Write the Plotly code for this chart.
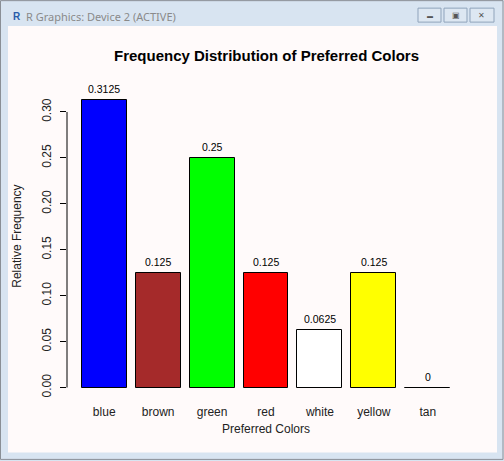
import plotly.graph_objects as go

# data read from the R barplot
colors = ['blue', 'brown', 'green', 'red', 'white', 'yellow', 'tan']
rel_freq = [0.3125, 0.125, 0.25, 0.125, 0.0625, 0.125, 0.0]
fill_colors = ['#0000FF', '#A52A2A', '#00FF00', '#FF0000', '#FFFFFF', '#FFFF00', '#D2B48C']
y_ticks = [0.00, 0.05, 0.10, 0.15, 0.20, 0.25, 0.30]

W, H = 504, 461
# plot region in pixels (R device)
L, R_, T, B = 67, 465, 89, 399.5


def px(x):
    return (x - L) / (R_ - L)


def py(y):
    return (B - y) / (B - T)


# R barplot geometry: width 1, space 0.2
centers = [0.7 + 1.2 * i for i in range(len(colors))]
x_lo, x_hi = 0.2, 0.2 + 1.2 * len(colors) - 0.2
pad = 0.04 * (x_hi - x_lo)
y_hi = max(rel_freq)
y_pad = 0.04 * y_hi

font = 'Liberation Sans, Arial'

fig = go.Figure()
fig.add_bar(
    x=centers, y=rel_freq, width=1,
    marker=dict(color=fill_colors, line=dict(color='black', width=1)),
    hoverinfo='x+y',
)

shapes = [
    # client area of the graphics window
    dict(type='rect', xref='paper', yref='paper', x0=px(8), x1=px(497), y0=py(453), y1=py(26),
         fillcolor='#FFFAFA', line=dict(width=0), layer='below'),
    # window outer border
    dict(type='rect', xref='paper', yref='paper', x0=px(0.5), x1=px(503), y0=py(460), y1=py(0.5),
         line=dict(color='#8a8f96', width=1)),
    # y axis line from first to last tick, as R draws it
    dict(type='line', xref='paper', yref='y', x0=0, x1=0, y0=y_ticks[0], y1=y_ticks[-1],
         line=dict(color='black', width=1)),
]
# title bar buttons
for bx0, bx1 in [(418, 441), (444, 467), (470, 494)]:
    shapes.append(dict(type='rect', xref='paper', yref='paper', x0=px(bx0), x1=px(bx1),
                       y0=py(22), y1=py(8), fillcolor='#dde7f2',
                       line=dict(color='#8fa3bb', width=1)))


def note(text, x, y, size, color='#222', **kw):
    return dict(text=text, x=x, y=y, xref='paper', yref='paper', showarrow=False,
                xanchor=kw.pop('xanchor', 'center'), yanchor='middle',
                font=dict(size=size, color=color, family=kw.pop('family', font)), **kw)


annotations = [
    note('R Graphics: Device 2 (ACTIVE)', px(24), py(16), 11, '#8a8a8a',
         xanchor='left', family='Segoe UI, Noto Sans'),
    note('<b>R</b>', px(17), py(16), 10, '#2a5caa'),
    note('<b>Frequency Distribution of Preferred Colors</b>', 0.5, py(55), 15, 'black'),
    note('Preferred Colors', 0.5, py(430), 12),
    note('Relative Frequency', px(17), py(237), 12, textangle=-90),
    # button glyphs
    note('▬', px(429.5), py(15.5), 6, '#555'),
    note('▣', px(455.5), py(15.5), 8, '#555'),
    note('✕', px(482), py(15.5), 8, '#555'),
]
# value labels above the bars (text(..., pos=3) in R)
for xc, v in zip(centers, rel_freq):
    annotations.append(dict(text=f'{v:g}', x=xc, y=v, xref='x', yref='y', showarrow=False,
                            yanchor='middle', yshift=11,
                            font=dict(size=10.5, color='black', family=font)))

fig.update_layout(
    width=W, height=H,
    margin=dict(l=L, r=W - R_, t=T, b=H - B, pad=0),
    paper_bgcolor='#d8e4f1', plot_bgcolor='rgba(0,0,0,0)',
    showlegend=False, bargap=0,
    shapes=shapes, annotations=annotations,
    font=dict(family=font, color='#222'),
)
fig.update_xaxes(
    range=[x_lo - pad, x_hi + pad], tickvals=centers, ticktext=colors,
    showgrid=False, zeroline=False, showline=False, ticks='',
    tickfont=dict(size=12, color='#222'), ticklabelstandoff=4,
)
fig.update_yaxes(
    range=[-y_pad, y_hi + y_pad], tickvals=y_ticks, ticktext=[f'{v:.2f}' for v in y_ticks],
    showgrid=False, zeroline=False, showline=False, ticks='outside', ticklen=6,
    tickcolor='black', tickangle=-90, tickfont=dict(size=12, color='#222'),
    ticklabelstandoff=4,
)

fig.write_html('out.html', config={'displayModeBar': False},
               post_script="document.body.style.margin='0';")
